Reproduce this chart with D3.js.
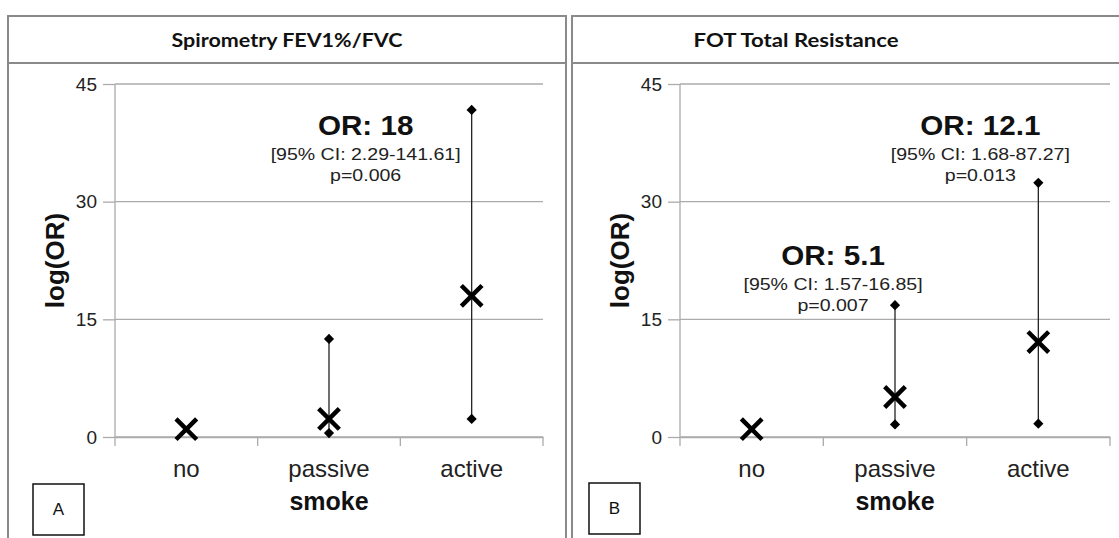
<!DOCTYPE html>
<html><head><meta charset="utf-8">
<script src="https://cdn.jsdelivr.net/npm/d3@7"></script>
<style>body{margin:0;background:#fff}svg{display:block}</style>
</head><body>
<script>
const categories = ["no", "passive", "active"];
const yTicks = [0, 15, 30, 45];
const fevTitle = "Spirometry FEV1%/FVC";
const fevOR = [1, 2.3, 18];
const fevLow = [null, 0.5, 2.3];
const fevHigh = [null, 12.5, 41.7];
const fevNotes = [{cat: "active", or: "OR: 18", ci: "[95% CI: 2.29-141.61]", p: "p=0.006", at: 38.5}];
const fotTitle = "FOT Total Resistance";
const fotOR = [1, 5.1, 12.1];
const fotLow = [null, 1.6, 1.7];
const fotHigh = [null, 16.8, 32.4];
const fotNotes = [
  {cat: "passive", or: "OR: 5.1", ci: "[95% CI: 1.57-16.85]", p: "p=0.007", at: 21.9},
  {cat: "active", or: "OR: 12.1", ci: "[95% CI: 1.68-87.27]", p: "p=0.013", at: 38.5}
];

const W = 1119, H = 538;
const FONT = "'Liberation Sans', Arial, sans-serif";
const svg = d3.select("body").append("svg").attr("width", W).attr("height", H);

function panel(o) {
  const g = svg.append("g");
  // frame
  g.append("rect").attr("x", o.bx).attr("y", 16).attr("width", o.bw).attr("height", 540)
    .attr("fill", "none").attr("stroke", "#8a8a8a").attr("stroke-width", 2);
  g.append("line").attr("x1", o.bx).attr("x2", o.bx + o.bw).attr("y1", 63).attr("y2", 63)
    .attr("stroke", "#8a8a8a").attr("stroke-width", 2);
  g.append("text").attr("x", o.tx).attr("y", 47).attr("text-anchor", "middle")
    .attr("font-family", "Lato, 'Open Sans', sans-serif").attr("font-weight", "bold")
    .attr("font-size", 19.5).attr("fill", "#111")
    .attr("textLength", o.tw).attr("lengthAdjust", "spacingAndGlyphs").text(o.title);

  const x = d3.scaleBand().domain(categories).range([o.x0, o.x1]);
  const y = d3.scaleLinear().domain([0, 45]).range([437, 84]);

  // gridlines
  g.append("g").selectAll("line").data(yTicks).join("line")
    .attr("x1", o.x0).attr("x2", o.x1).attr("y1", d => y(d)).attr("y2", d => y(d))
    .attr("stroke", "#ababab").attr("stroke-width", 1.3);

  const ya = g.append("g").attr("transform", `translate(${o.x0},0)`)
    .call(d3.axisLeft(y).tickValues(yTicks).tickSize(12).tickPadding(6));
  ya.select(".domain").attr("stroke", "#ababab").attr("stroke-width", 1.3).attr("d", `M-0,${y(45)}V${y(0)}`);
  ya.selectAll(".tick line").attr("stroke", "#ababab").attr("stroke-width", 1.3);
  ya.selectAll(".tick text").attr("font-family", FONT)
    .attr("font-size", 19).attr("fill", "#222");

  const xa = g.append("g").attr("transform", `translate(0,${y(0)})`)
    .call(d3.axisBottom(x).tickSize(0));
  xa.select(".domain").attr("stroke", "#ababab").attr("stroke-width", 1.3);
  xa.selectAll(".tick text").attr("font-family", FONT).attr("y", 40).attr("dy", 0)
    .attr("font-size", 24).attr("fill", "#222");
  // category boundary ticks
  g.append("g").selectAll("line").data(categories.concat(["_end"])).join("line")
    .attr("x1", (d, i) => o.x0 + i * x.bandwidth()).attr("x2", (d, i) => o.x0 + i * x.bandwidth())
    .attr("y1", y(0)).attr("y2", y(0) + 9).attr("stroke", "#ababab").attr("stroke-width", 1.3);

  // axis titles
  g.append("text").attr("transform", `translate(${o.x0 - 51},${(y(0) + y(45)) / 2}) rotate(-90)`)
    .attr("text-anchor", "middle").attr("font-family", FONT)
    .attr("font-weight", "bold").attr("font-size", 26).attr("fill", "#111").text("log(OR)");
  g.append("text").attr("x", (o.x0 + o.x1) / 2).attr("y", 510).attr("text-anchor", "middle")
    .attr("font-family", FONT).attr("font-weight", "bold")
    .attr("font-size", 25).attr("fill", "#111").text("smoke");

  // panel letter box
  g.append("rect").attr("x", o.lx).attr("y", o.ly).attr("width", 51).attr("height", 51)
    .attr("fill", "#fff").attr("stroke", "#111").attr("stroke-width", 1.5);
  g.append("text").attr("x", o.lx + 25.5).attr("y", o.ly + 31).attr("text-anchor", "middle")
    .attr("font-family", FONT).attr("font-size", 17)
    .attr("fill", "#111").text(o.letter);

  const data = categories.map((c, i) => ({c, or: o.or[i], lo: o.lo[i], hi: o.hi[i]}));
  const cx = d => x(d.c) + x.bandwidth() / 2;
  const ci = data.filter(d => d.lo !== null);
  g.append("g").selectAll("line").data(ci).join("line")
    .attr("x1", cx).attr("x2", cx).attr("y1", d => y(d.lo)).attr("y2", d => y(d.hi))
    .attr("stroke", "#222").attr("stroke-width", 1.3);
  const diam = d3.symbol().type(d3.symbolSquare).size(52);
  g.append("g").selectAll("path").data(ci.flatMap(d => [{c: d.c, v: d.lo}, {c: d.c, v: d.hi}])).join("path")
    .attr("d", diam).attr("transform", d => `translate(${cx(d)},${y(d.v)}) rotate(45)`).attr("fill", "#000");
  const cross = d3.symbol().type(d3.symbolX).size(280);
  g.append("g").selectAll("path").data(data).join("path")
    .attr("d", cross).attr("transform", d => `translate(${cx(d)},${y(d.or)})`)
    .attr("fill", "none").attr("stroke", "#000").attr("stroke-width", 4.5);

  // annotations
  o.notes.forEach(n => {
    const nx = x(n.cat) + x.bandwidth() / 2 - o.noteShift(n);
    const ny = y(n.at);
    const t = g.append("g").attr("font-family", FONT).attr("text-anchor", "middle").attr("fill", "#111");
    t.append("text").attr("transform", `translate(${nx},${ny}) scale(1.04,1)`)
      .attr("font-size", 28.5).attr("font-weight", "bold").text(n.or);
    t.append("text").attr("transform", `translate(${nx},${ny + 25}) scale(1.15,1)`)
      .attr("font-size", 17).attr("fill", "#222").text(n.ci);
    t.append("text").attr("transform", `translate(${nx},${ny + 46}) scale(1.15,1)`)
      .attr("font-size", 17).attr("fill", "#222").text(n.p);
  });
}

panel({bx: 8, bw: 558, tx: 287, tw: 231, title: fevTitle, x0: 115, x1: 543, or: fevOR, lo: fevLow, hi: fevHigh,
  notes: fevNotes, noteShift: n => 106, lx: 33, ly: 484, letter: "A"});
panel({bx: 572, bw: 560, tx: 796, tw: 205, title: fotTitle, x0: 680, x1: 1110, or: fotOR, lo: fotLow, hi: fotHigh,
  notes: fotNotes, noteShift: n => n.cat === "active" ? 58 : 62, lx: 589, ly: 483, letter: "B"});
</script>
</body></html>
